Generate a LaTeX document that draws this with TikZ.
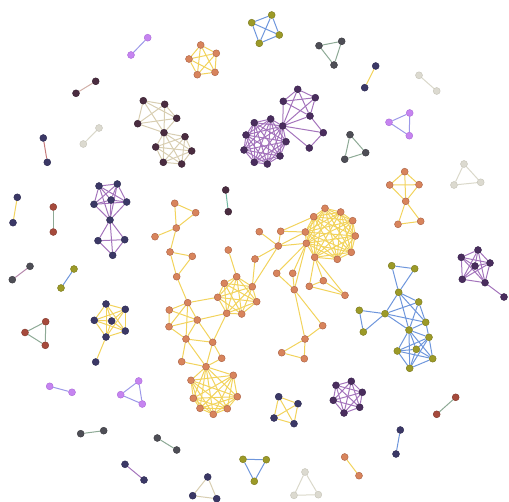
\documentclass[tikz,border=0pt]{standalone}
\usetikzlibrary{backgrounds}
\definecolor{cOr}{HTML}{D8845C}\definecolor{cOrD}{HTML}{A85E42}
\definecolor{cNavy}{HTML}{3B3866}\definecolor{cNavyD}{HTML}{2A2850}
\definecolor{cPur}{HTML}{4A2D5E}\definecolor{cPurD}{HTML}{35204A}
\definecolor{cMar}{HTML}{4A2C40}\definecolor{cMarD}{HTML}{351E2E}
\definecolor{cOl}{HTML}{9C9A28}\definecolor{cOlD}{HTML}{77761A}
\definecolor{cGr}{HTML}{4E4E56}\definecolor{cGrD}{HTML}{38383E}
\definecolor{cLt}{HTML}{DCDAD0}\definecolor{cLtD}{HTML}{C4C2B6}
\definecolor{cLav}{HTML}{C684F0}\definecolor{cLavD}{HTML}{A868D8}
\definecolor{cRed}{HTML}{A64A3C}\definecolor{cRedD}{HTML}{80362A}
\definecolor{eY}{HTML}{F2D35C}\definecolor{eP}{HTML}{A474BC}
\definecolor{eB}{HTML}{6E96DC}\definecolor{eBe}{HTML}{D8CEB2}
\definecolor{eG}{HTML}{8EAA96}\definecolor{eL}{HTML}{9C98E8}
\definecolor{eLt}{HTML}{DAD8CA}\definecolor{ePk}{HTML}{D2B0A8}
\definecolor{eR}{HTML}{C47A7A}\definecolor{eT}{HTML}{72B8A2}
\definecolor{eM}{HTML}{B486AA}
\tikzset{
 nd/.style={circle,inner sep=0pt,minimum size=7pt,line width=0.4pt},
 ny/.style={nd,fill=cOr,draw=cOrD},
 nn/.style={nd,fill=cNavy,draw=cNavyD},
 np/.style={nd,fill=cPur,draw=cPurD},
 nm/.style={nd,fill=cMar,draw=cMarD},
 no/.style={nd,fill=cOl,draw=cOlD},
 ng/.style={nd,fill=cGr,draw=cGrD},
 nl/.style={nd,fill=cLt,draw=cLtD},
 nv/.style={nd,fill=cLav,draw=cLavD},
 nr/.style={nd,fill=cRed,draw=cRedD},
 ed/.style={line width=1pt},
 ey/.style={ed,draw=eY}, ep/.style={ed,draw=eP}, eb/.style={ed,draw=eB},
 ebe/.style={ed,draw=eBe}, eg/.style={ed,draw=eG}, el/.style={ed,draw=eL},
 elt/.style={ed,draw=eLt}, epk/.style={ed,draw=ePk}, er/.style={ed,draw=eR},
 et/.style={ed,draw=eT}, em/.style={ed,draw=eM}
}
\newcommand\mkclique[3]{\foreach \i in {1,...,#2}{\foreach \j in {1,...,#2}{\ifnum\i<\j \draw[#3] (#1\i)--(#1\j);\fi}}}
\begin{document}
\begin{tikzpicture}[x=1pt,y=-1pt]
\path[use as bounding box] (0,0) rectangle (509,502);
% ---- yellow main component
\foreach \n/\x/\y in {a1/174.7/203.3,a2/195.7/212.7,a3/176.3/228,a4/155/236.7,a5/170/252,a6/192.3/256.3,a7/176.7/276.7,a8/187.7/302.7,a9/228.3/250,
 m1/236.7/276.7,m2/224.3/283.3,m3/252.3/286.7,m4/217.7/297.3,m5/256.7/301.7,m6/226.7/313.3,m7/241.7/314,
 h1/255/259,h2/259.3/231.7,h3/278.3/246,h4/280.7/231.3,
 b1/169.3/310,b2/197.3/320,b3/169/326.7,b4/186/339,b5/212.7/342.3,b6/221.7/358.3,b7/181.7/361.7,
 c1/233.3/375.3,c2/191/380.3,c3/237.3/396.7,c4/193.3/398.3,c5/200/408.3,c6/213.3/414.3,c7/227.3/408.7,c8/206/366.7,
 g1/305.3/232,g2/306.3/243.3,g3/313.7/216.7,g4/325/208.3,g5/340.7/212,g6/352.7/220.7,g7/355.3/236,g8/351.3/252.3,g9/337.3/259.3,g10/314.7/257.3,
 j1/276.7/273.3,j2/292.7/273.3,j3/294.3/289.7,j4/309.3/286.3,j5/323.3/280.7,j6/345/295.3,j7/322.7/325.7,j8/305/339,j9/281.7/352.7,j10/304.3/358.7,
 o1/200.7/45,o2/216.3/53.3,o3/189/59,o4/215/72.3,o5/197.3/74.7,
 r1/404.7/171.7,r2/389.7/185,r3/419/184.7,r4/405.7/201.3,r5/398/224.3,r6/420.7/221.3,
 yp1/344.7/457,yp2/359/475.7}
 \node[ny] (\n) at (\x,\y) {};
% ---- purple top
\foreach \n/\x/\y in {p1/297.7/89.3,p2/283.3/101.3,p3/315.3/97.7,p4/310/116,p6/323.3/132.7,p7/309.3/148,
 q1/254.3/122.7,q2/270.7/119,q3/282.7/126,q4/286/141.7,q5/280/156,q6/267.3/164,q7/254.3/162.3,q8/244/150,q9/246/135,
 w1/475/266,w2/478/250,w3/490/263,w4/485/282.7,w5/462.3/279.3,w6/461.3/257.3,w7/504/297,
 s1/336/385.3,s2/351.3/381.3,s3/362.3/392.3,s4/359.7/407.3,s5/344/413,s6/333.3/400.3}
 \node[np] (\n) at (\x,\y) {};
% ---- navy nodes
\foreach \n/\x/\y in {v1/99/186,v2/117.3/184,v3/94/204.3,v4/111/200,v5/126.7/202,v6/110/220,v7/98/240.7,v8/124.7/239.7,v9/112.7/255.3,
 y1/111.7/321,y2/106/304,y3/125.3/309.3,y4/94.3/320.3,y5/125.3/331,y6/106/337,y7/95.7/362,
 k1/278.7/396.7,k2/298/403.7,k3/274/418,k4/294/423.7,
 n1/43.3/138,n2/47.3/162.3,n3/375.7/66,n4/364.7/87.7,n5/17.3/197.3,n6/13/222.7,n7/125/464.3,n8/144/480,n9/400.3/430,n10/396/454,
 t1/207.7/477,t2/192.7/495.7,t3/216.7/498.7}
 \node[nn] (\n) at (\x,\y) {};
% ---- maroon nodes
\foreach \n/\x/\y in {e1/143.3/100.7,e2/164.7/104.3,e3/176.7/118.3,e4/164/132.7,e5/137.7/123.7,
 f1/185/136.7,f2/191.7/151,f3/181.7/164,f4/163.3/162.3,f5/155.7/147,
 d1/95.7/81.3,d2/76/93.3,d3/225.7/190,d4/228.3/211.7}
 \node[nm] (\n) at (\x,\y) {};
% ---- olive nodes
\foreach \n/\x/\y in {bk1/271.7/15,bk2/251.7/22.7,bk3/279.3/35,bk4/259.3/43.3,
 u1/391.7/265.7,u2/414.7/268.7,u3/398.7/292.3,u4/418.7/302,u5/359.3/310.3,u6/385/313.7,u7/425.7/322.3,u8/363.3/332,
 uk1/409/330,uk2/429/337.3,uk3/397.3/351,uk4/416.3/349.3,uk5/432.7/358.7,uk6/409.7/368.3,
 ol1/74/269,ol2/61/288,ot1/243/459.3,ot2/266.3/459.7,ot3/254.3/481.3}
 \node[no] (\n) at (\x,\y) {};
% ---- dark gray nodes
\foreach \n/\x/\y in {gt1/319/45.7,gt2/341.7/41.3,gt3/334/65,gs1/350/134.7,gs2/365.7/152.7,gs3/344.7/159.3,
 gp1/30/266.3,gp2/12.3/279.7,gp3/80.7/433.7,gp4/103.7/430.7,gp5/157.3/438,gp6/176.7/450}
 \node[ng] (\n) at (\x,\y) {};
% ---- light nodes
\foreach \n/\x/\y in {lp1/99/128,lp2/83.3/144,lp3/419/75.3,lp4/436.7/91,
 lt1/464/164,lt2/454/185,lt3/480.7/182.3,lu1/305/472,lu2/294/495.3,lu3/318.3/494.7}
 \node[nl] (\n) at (\x,\y) {};
% ---- lavender nodes
\foreach \n/\x/\y in {vp1/147.7/37.7,vp2/131/55,vt1/409.7/113,vt2/389/122.3,vt3/409.3/135.7,
 vp3/49.7/386.3,vp4/72/392.3,vs1/138.7/381,vs2/120.7/394.7,vs3/142.3/404}
 \node[nv] (\n) at (\x,\y) {};
% ---- red nodes
\foreach \n/\x/\y in {rp1/53.3/207,rp2/53.3/232,rt1/45.7/321.7,rt2/25/332.5,rt3/45.3/345.3,rp3/455.7/397.3,rp4/436.7/414.3}
 \node[nr] (\n) at (\x,\y) {};
% ================= edges
\begin{scope}[on background layer]
\foreach \u/\v in {a1/a2,a1/a3,a2/a3,a3/a4,a3/a5,a5/a6,a5/a7,a6/a7,a7/a8,a8/m4,a8/b1,a8/b2,a8/b3,a8/b4,b1/b2,b1/b3,b2/b3,b2/b4,b3/b4,b2/b5,b2/m6,b4/b5,b4/b7,b4/c8,b5/b6,b5/c8,b5/m6,b6/c8,b7/c8,
 a9/m1,m3/h1,h1/h3,m3/h3,h2/h3,h4/h3,h4/g3,h4/g1,h3/g1,h3/g2,g2/j1,g2/j2,g2/j3,j1/j3,j2/j3,j3/j7,j3/j8,j7/j8,j8/j9,j8/j10,j9/j10,g10/j4,g10/j5,g10/j6,j4/j5,j5/j6,j4/j6,
 r1/r2,r1/r3,r1/r4,r2/r3,r2/r4,r3/r4,r4/r5,r4/r6,r5/r6,yp1/yp2,n3/n4,n5/n6,y6/y7}
 \draw[ey] (\u)--(\v);
\mkclique{m}{7}{ey}
\mkclique{c}{8}{ey}
\mkclique{g}{10}{ey}
\mkclique{o}{5}{ey}
\mkclique{y}{6}{ey}
\mkclique{k}{4}{ey}
% purple
\mkclique{q}{9}{ep}
\mkclique{w}{6}{ep}
\mkclique{s}{6}{ep}
\mkclique{v}{6}{ep}
\foreach \u/\v in {p1/p2,p1/p3,p1/p4,p2/p3,p2/p4,p3/p4,q3/p1,q3/p2,q3/p4,q3/p3,q3/p6,q3/p7,p4/p6,p6/p7,w4/w7,v6/v7,v6/v8,v6/v9,v7/v8,v7/v9,v8/v9}
 \draw[ep] (\u)--(\v);
% beige
\mkclique{e}{5}{ebe}
\mkclique{f}{5}{ebe}
\foreach \u/\v in {e4/f1,e4/f2,e4/f3,e4/f4,e4/f5,t1/t2,t1/t3,t2/t3} \draw[ebe] (\u)--(\v);
% blue
\mkclique{bk}{4}{eb}
\mkclique{uk}{6}{eb}
\foreach \u/\v in {u1/u2,u1/u3,u2/u3,u3/u6,u3/u4,u3/u7,u3/uk1,u5/u6,u5/u8,u6/u8,u6/u4,u6/u7,u6/uk1,u4/u7,u4/uk1,u7/uk1,u7/uk2,ol1/ol2,ot1/ot2,ot1/ot3,ot2/ot3}
 \draw[eb] (\u)--(\v);
% greens
\foreach \u/\v in {gt1/gt2,gt2/gt3,gt1/gt3,gs1/gs2,gs2/gs3,gs1/gs3,rp1/rp2,rt1/rt2,rt2/rt3,rt1/rt3,gp3/gp4,gp5/gp6,rp3/rp4}
 \draw[eg] (\u)--(\v);
% lavender
\foreach \u/\v in {vp1/vp2,vt1/vt2,vt2/vt3,vt1/vt3,vp3/vp4,vs1/vs2,vs2/vs3,vs1/vs3}
 \draw[el] (\u)--(\v);
% light
\foreach \u/\v in {lp1/lp2,lp3/lp4,lt1/lt2,lt2/lt3,lt1/lt3,lu1/lu2,lu2/lu3,lu1/lu3}
 \draw[elt] (\u)--(\v);
\draw[epk] (d1)--(d2);
\draw[er] (n1)--(n2);
\draw[et] (d3)--(d4);
\draw[em] (gp1)--(gp2);
\draw[ep] (n7)--(n8);
\draw[eb] (n9)--(n10);
\end{scope}
\end{tikzpicture}
\end{document}
